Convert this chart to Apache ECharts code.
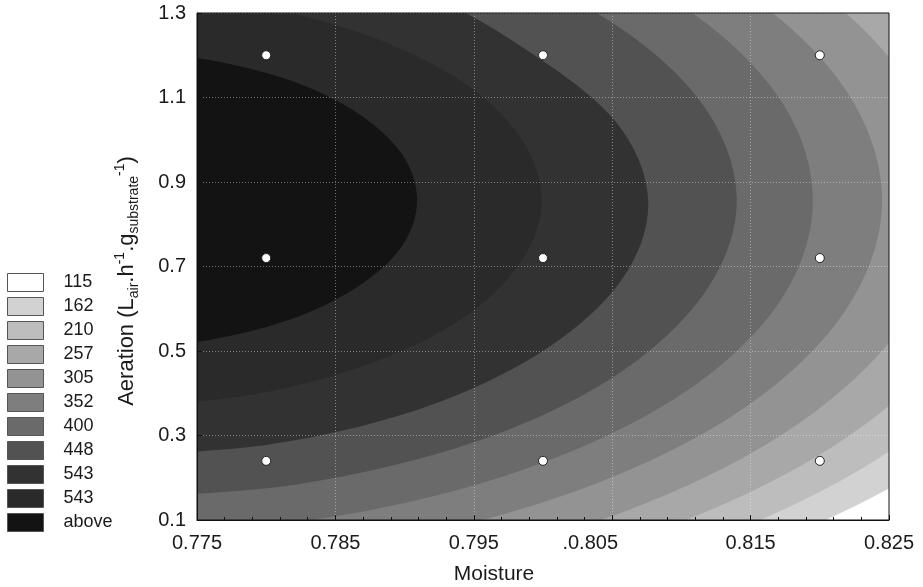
<!DOCTYPE html>
<html>
<head>
	<meta charset="utf-8">
	<title>Moisture - Aeration contour</title>
	<script src="https://cdn.jsdelivr.net/npm/echarts@6/dist/echarts.min.js"></script>
	<style>body{margin:0;background:#fff}</style>
</head>
<body>
	<div id="main" style="width:923px;height:587px"></div>
	<script type="text/javascript">
var levelLabels = ['115', '162', '210', '257', '305', '352', '400', '448', '543', '543', 'above'];
var xTicks = ['0.775', '0.785', '0.795', '.0.805', '0.815', '0.825'];
var yTicks = ['0.1', '0.3', '0.5', '0.7', '0.9', '1.1', '1.3'];

// contour lines, [moisture, aeration], top to bottom
var contour115 = [[0.7680,1.937],[0.7907,1.884],[0.8112,1.731],[0.8275,1.492],[0.8379,1.191],[0.8415,0.857],[0.8382,0.530],[0.8282,0.236],[0.8125,0.000],[0.7907,-0.165],[0.7680,-0.222]];
var contour162 = [[0.7680,1.899],[0.7895,1.848],[0.8089,1.700],[0.8242,1.470],[0.8341,1.179],[0.8375,0.857],[0.8341,0.536],[0.8242,0.245],[0.8089,0.015],[0.7895,-0.133],[0.7680,-0.184]];
var contour210 = [[0.7680,1.852],[0.7882,1.803],[0.8064,1.662],[0.8209,1.442],[0.8302,1.165],[0.8334,0.857],[0.8302,0.550],[0.8209,0.273],[0.8064,0.053],[0.7882,-0.088],[0.7680,-0.137]];
var contour257 = [[0.7680,1.797],[0.7869,1.751],[0.8039,1.618],[0.8174,1.410],[0.8261,1.148],[0.8290,0.857],[0.8261,0.567],[0.8174,0.305],[0.8039,0.097],[0.7869,-0.036],[0.7680,-0.082]];
var contour305 = [[0.7680,1.726],[0.7855,1.684],[0.8012,1.560],[0.8137,1.368],[0.8217,1.126],[0.8245,0.857],[0.8217,0.589],[0.8137,0.347],[0.8012,0.155],[0.7855,0.031],[0.7680,-0.011]];
var contour352 = [[0.7680,1.650],[0.7839,1.612],[0.7983,1.499],[0.8097,1.324],[0.8170,1.102],[0.8195,0.857],[0.8170,0.612],[0.8097,0.391],[0.7983,0.216],[0.7839,0.103],[0.7680,0.065]];
var contour400 = [[0.7680,1.565],[0.7822,1.531],[0.7951,1.430],[0.8052,1.273],[0.8117,1.076],[0.8140,0.857],[0.8117,0.639],[0.8052,0.441],[0.7951,0.285],[0.7822,0.184],[0.7680,0.150]];
var contour448 = [[0.7680,1.466],[0.7803,1.436],[0.7910,1.350],[0.7987,1.215],[0.8052,1.045],[0.8076,0.857],[0.8057,0.669],[0.8000,0.500],[0.7913,0.365],[0.7803,0.279],[0.7680,0.249]];
var contour495 = [[0.7680,1.347],[0.7779,1.323],[0.7867,1.254],[0.7938,1.145],[0.7983,1.009],[0.7999,0.857],[0.7983,0.706],[0.7938,0.569],[0.7867,0.461],[0.7779,0.391],[0.7680,0.368]];
var contour543 = [[0.7680,1.210],[0.7751,1.193],[0.7815,1.143],[0.7865,1.065],[0.7898,0.966],[0.7909,0.857],[0.7898,0.748],[0.7865,0.650],[0.7815,0.572],[0.7751,0.522],[0.7680,0.505]];
var contours = [contour115, contour162, contour210, contour257, contour305, contour352, contour400, contour448, contour495, contour543];

// experimental design points
var designMoisture = [0.78, 0.80, 0.82];
var designAeration = [1.2, 0.72, 0.24];

var bandColors = ['#ffffff', '#d2d2d2', '#bdbdbd', '#a8a8a8', '#939393', '#7e7e7e', '#6a6a6a', '#525252', '#323232', '#2a2a2a', '#131313'];
var font = 'Liberation Sans, Arial, sans-serif';

var myChart = echarts.init(document.getElementById('main'));

function bandRenderer(curve, color) {
    return function (params, api) {
        if (params.dataIndexInside !== 0) return;
        var p = curve.map(function (d) { return api.coord(d); });
        var n = p.length;
        var d = 'M' + p[0][0] + ' ' + p[0][1];
        for (var i = 0; i < n - 1; i++) {
            var p0 = p[Math.max(i - 1, 0)], p1 = p[i], p2 = p[i + 1], p3 = p[Math.min(i + 2, n - 1)];
            d += ' C' + (p1[0] + (p2[0] - p0[0]) / 6) + ' ' + (p1[1] + (p2[1] - p0[1]) / 6) +
                ' ' + (p2[0] - (p3[0] - p1[0]) / 6) + ' ' + (p2[1] - (p3[1] - p1[1]) / 6) +
                ' ' + p2[0] + ' ' + p2[1];
        }
        d += ' Z';
        var cs = params.coordSys;
        return {
            type: 'path',
            shape: { pathData: d },
            style: { fill: color },
            clipPath: { type: 'rect', shape: { x: cs.x, y: cs.y, width: cs.width, height: cs.height } }
        };
    };
}

var series = [{
    type: 'custom', name: 'L0', data: [], z: 1,
    renderItem: function () { return null; },
    itemStyle: { color: bandColors[0] }
}];
contours.forEach(function (c, i) {
    series.push({
        type: 'custom',
        name: 'L' + (i + 1),
        data: c,
        z: 1,
        silent: true,
        clip: true,
        encode: { x: 0, y: 1 },
        itemStyle: { color: bandColors[i + 1] },
        renderItem: bandRenderer(c, bandColors[i + 1])
    });
});

var points = [];
designAeration.forEach(function (a) {
    designMoisture.forEach(function (m) { points.push([m, a]); });
});
series.push({
    type: 'scatter',
    data: points,
    symbolSize: 9,
    z: 6,
    silent: true,
    itemStyle: { color: '#ffffff', borderColor: '#222', borderWidth: 1, opacity: 1 }
});

var option = {
    animation: false,
    grid: { left: 197, top: 13, width: 692, height: 507, show: true, z: 4, borderColor: '#111', borderWidth: 1, backgroundColor: 'transparent' },
    legend: {
        orient: 'vertical',
        left: 7,
        top: 273,
        padding: 0,
        itemWidth: 36,
        itemHeight: 18,
        itemGap: 5,
        selectedMode: false,
        icon: 'rect',
        data: levelLabels.map(function (l, i) {
            return { name: 'L' + i, itemStyle: { color: bandColors[i], borderColor: '#555', borderWidth: 1 } };
        }),
        formatter: function (name) { return levelLabels[+name.slice(1)]; },
        textStyle: { fontFamily: font, fontSize: 18, color: '#1a1a1a', padding: [0, 0, 0, 15], lineHeight: 18 }
    },
    xAxis: {
        type: 'value', min: 0.775, max: 0.825, interval: 0.01, z: 3,
        axisLine: { lineStyle: { color: '#111' } },
        axisTick: { inside: true, length: 5, lineStyle: { color: '#111' } },
        minorTick: { show: true, splitNumber: 5, length: 3, lineStyle: { color: '#111' } },
        splitLine: { show: true, lineStyle: { color: 'rgba(255,255,255,0.4)', type: [1, 2] } },
        axisLabel: {
            margin: 13, fontSize: 20, fontFamily: font, color: '#1a1a1a',
            formatter: function (v) {
                var i = Math.round((v - 0.775) / 0.01);
                return i === 3 ? '{shift|' + xTicks[i] + '}' : xTicks[i];
            },
            rich: { shift: { fontSize: 20, fontFamily: font, color: '#1a1a1a', padding: [0, 44, 0, 0] } }
        }
    },
    yAxis: {
        type: 'value', min: 0.1, max: 1.3, interval: 0.2, z: 3,
        axisLine: { lineStyle: { color: '#111' } },
        axisTick: { inside: true, length: 5, lineStyle: { color: '#111' } },
        splitLine: { show: true, lineStyle: { color: 'rgba(255,255,255,0.4)', type: [1, 2] } },
        axisLabel: {
            margin: 11, fontSize: 20, fontFamily: font, color: '#1a1a1a',
            formatter: function (v) { return yTicks[Math.round((v - 0.1) / 0.2)]; }
        }
    },
    graphic: [{
        type: 'text', x: 494, y: 574,
        style: { text: 'Moisture', font: '21px ' + font, fill: '#1a1a1a', align: 'center', verticalAlign: 'middle' }
    }, {
        type: 'text', x: 127, y: 281, rotation: Math.PI / 2,
        style: {
            text: 'Aeration (L{sub|air}.h{sup|-1}.g{sub|substrate}{sup|-1})',
            font: '22px ' + font, fill: '#1a1a1a', align: 'center', verticalAlign: 'middle', lineHeight: 28,
            rich: {
                sub: { fontSize: 14, fontFamily: font, lineHeight: 14, verticalAlign: 'bottom', fill: '#1a1a1a' },
                sup: { fontSize: 14, fontFamily: font, lineHeight: 14, verticalAlign: 'top', fill: '#1a1a1a' }
            }
        }
    }],
    series: series
};

myChart.setOption(option);
	</script>
</body>
</html>
